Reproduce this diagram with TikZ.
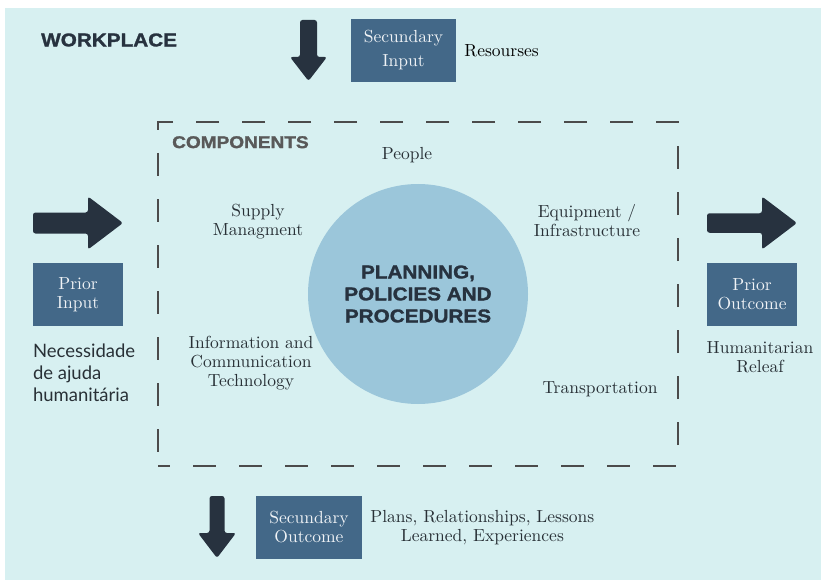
\documentclass[tikz,border=0pt]{standalone}
\usepackage{fontspec}
\usetikzlibrary{
  positioning
}
\setmainfont{lmroman10-regular.otf}[BoldFont=lmroman10-bold.otf]
\newfontfamily\latofont{Lato}
\newfontfamily\blackfont[FakeStretch=1.12,FakeBold=1.5]{Liberation Sans}

\definecolor{bgcyan}{HTML}{D7F0F1}
\definecolor{discblue}{HTML}{9BC6DA}
\definecolor{boxblue}{HTML}{436888}
\definecolor{arrowdark}{HTML}{27323F}
\definecolor{textdark}{HTML}{283036}
\definecolor{dashgray}{HTML}{4B4B4B}

\newcommand\labelsize{\fontsize{17.5}{19}\selectfont}

\tikzset{
  stagebox/.style={rectangle,fill=boxblue,text=white!92!boxblue,align=center,
    minimum width=90pt,minimum height=63pt,inner sep=0pt,font=\labelsize},
  comp/.style={align=center,text=textdark,inner sep=2pt,font=\labelsize},
  compframe/.style={rectangle,draw=dashgray,line width=2pt,
    dash pattern=on 23pt off 23pt,dash phase=11pt,
    minimum width=520pt,minimum height=344pt,inner sep=0pt},
  disc/.style={circle,fill=discblue,minimum size=220pt,inner sep=0pt,
    align=center,text=arrowdark,
    font=\blackfont\bfseries\fontsize{18.5}{22}\selectfont},
  % fat arrow pointing along +x: length / half shaft / half head / head length
  pics/bigarrow/.style args={#1/#2/#3/#4}{code={
    \fill[arrowdark,rounded corners=2.5pt]
      (0,-#2) -- (#1-#4,-#2) -- (#1-#4,-#3) -- (#1,0)
      -- (#1-#4,#3) -- (#1-#4,#2) -- (0,#2) -- cycle;
  }}
}

\begin{document}
\begin{tikzpicture}[x=1pt,y=-1pt,node distance=6pt]
  \useasboundingbox (0,0) rectangle (821,580);
  \fill[bgcyan] (5,8) rectangle (821,580);

  \node[anchor=west,inner sep=0pt,text=arrowdark,
    font=\blackfont\bfseries\fontsize{18.5}{22}\selectfont] (workplace) at (41,40) {WORKPLACE};

  % dashed frame with the disc in its middle
  \node[compframe] (components) at (418,294) {};
  \node[inner sep=0pt,text=black!65,below right=15pt and 15pt of components.north west,
    font=\blackfont\bfseries\fontsize{17}{20}\selectfont] (comptitle) {COMPONENTS};
  \node[disc] (plan) at (components.center) {PLANNING,\\POLICIES AND\\PROCEDURES};

  \node[comp] (people) at (407,155) {People};
  \node[comp] (supply) at (258,222) {Supply\\Managment};
  \node[comp] (equip) at (587,221) {Equipment /\\Infrastructure};
  \node[comp] (ict) at (251,363) {Information and\\Communication\\Technology};
  \node[comp] (transport) at (600,389) {Transportation};

  % secundary input, top
  \node[stagebox,minimum width=105pt] (secin) at (403.5,50.5) {Secundary\\[5pt]Input};
  \node[comp,text=black,right=of secin] (resources) {Resourses};
  \pic[rotate=-90] at (308.5,20) {bigarrow={61/8.5/18.5/24}};

  % prior input, left
  \pic at (33,223) {bigarrow={90/10.5/26.5/35}};
  \node[stagebox] (priorin) at (78,294.5) {Prior\\Input};
  \node[align=left,inner sep=0pt,text=textdark,
    below=17pt of priorin.south west,anchor=north west,
    font=\latofont\fontsize{18.5}{22}\selectfont] (need) {Necessidade\\de ajuda\\humanitária};

  % prior outcome, right
  \pic at (707,223) {bigarrow={90/9.75/26.5/35}};
  \node[stagebox] (priorout) at (752,294.5) {Prior\\Outcome};
  \node[comp,below=13pt of priorout,xshift=8pt] (relief) {Humanitarian\\Releaf};

  % secundary outcome, bottom
  \pic[rotate=-90] at (217,496) {bigarrow={62/7.5/19/25}};
  \node[stagebox,minimum width=106pt] (secout) at (309,527.5) {Secundary\\Outcome};
  \node[comp,right=of secout] (lessons) {Plans, Relationships, Lessons\\Learned, Experiences};
\end{tikzpicture}
\end{document}
